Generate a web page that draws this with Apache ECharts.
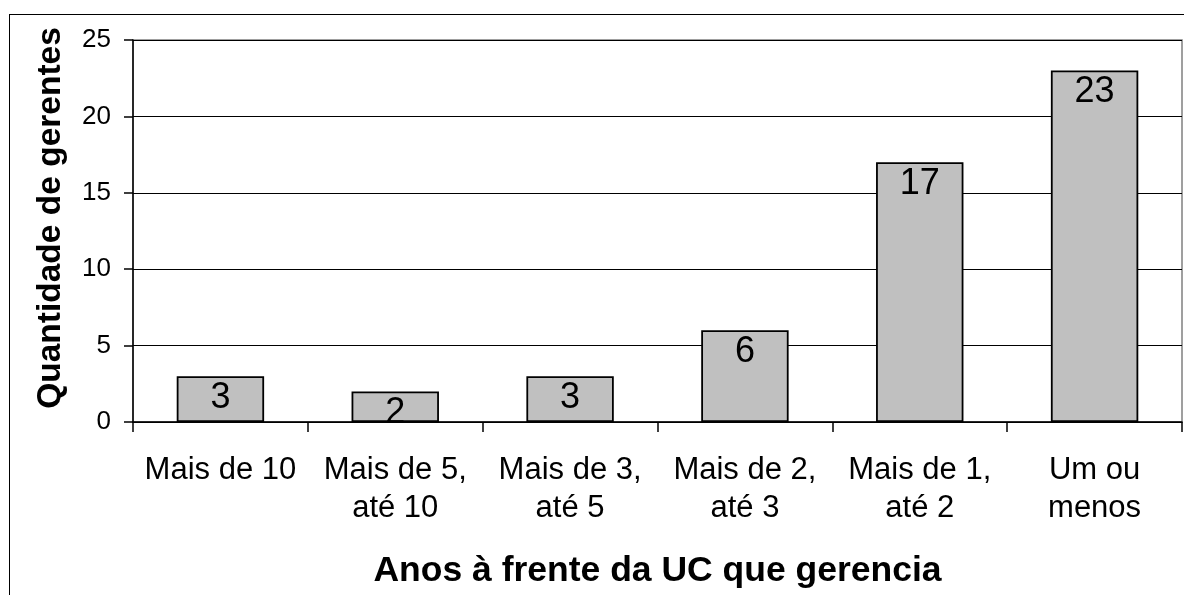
<!DOCTYPE html>
<html lang="pt">
<head>
    <meta charset="UTF-8" />
    <title>Anos à frente da UC</title>
    <script src="https://cdn.jsdelivr.net/npm/echarts@6/dist/echarts.min.js"></script>
    <style>
        html, body { margin: 0; padding: 0; background: #fff; }
        #frame { position: absolute; left: 9px; top: 14px; width: 1300px; height: 700px; border: 1.5px solid #000; }
        #main { position: absolute; left: 0; top: 0; width: 1184px; height: 595px; }
    </style>
</head>
<body>
    <div id="frame"></div>
    <div id="main"></div>
    <script>
        // dados do gráfico
        var categorias = ["Mais de 10", "Mais de 5,\naté 10", "Mais de 3,\naté 5", "Mais de 2,\naté 3", "Mais de 1,\naté 2", "Um ou\nmenos"];
        var gerentes = [3, 2, 3, 6, 17, 23];

        var chart = echarts.init(document.getElementById('main'));

        var fonte = "'Liberation Sans', Arial, sans-serif";

        var option = {
            animation: false,
            grid: {
                left: 133, right: 2, top: 40, bottom: 173,
                show: true, borderColor: '#808080', borderWidth: 1.5
            },
            xAxis: {
                type: 'category',
                data: categorias,
                name: 'Anos à frente da UC que gerencia',
                nameLocation: 'middle',
                nameGap: 131,
                nameTextStyle: { fontFamily: fonte, fontSize: 35.5, fontWeight: 'bold', color: '#000' },
                axisLine: { lineStyle: { color: '#000', width: 1.5 } },
                axisTick: { show: true, length: 10, lineStyle: { color: '#000', width: 1.5 } },
                axisLabel: { fontFamily: fonte, fontSize: 31, lineHeight: 38, color: '#000', margin: 29, interval: 0 }
            },
            yAxis: {
                type: 'value',
                min: 0, max: 25, interval: 5,
                name: 'Quantidade de gerentes',
                nameLocation: 'middle',
                nameGap: 65,
                nameTextStyle: { fontFamily: fonte, fontSize: 33.5, fontWeight: 'bold', color: '#000', padding: [0, 0, 0, 26] },
                axisLine: { show: true, lineStyle: { color: '#000', width: 1.5 } },
                axisTick: { show: true, length: 9, lineStyle: { color: '#000', width: 1.5 } },
                axisLabel: { fontFamily: fonte, fontSize: 26, color: '#000', margin: 22 },
                splitLine: { lineStyle: { color: '#000', width: 1.2 } }
            },
            series: [{
                type: 'bar',
                data: gerentes,
                barWidth: '50%',
                itemStyle: { color: '#C0C0C0', borderColor: '#000', borderWidth: 1.8 },
                label: {
                    show: true, position: 'insideTop', distance: 4,
                    fontFamily: fonte, fontSize: 36, color: '#000'
                }
            }]
        };

        chart.setOption(option);
    </script>
</body>
</html>
